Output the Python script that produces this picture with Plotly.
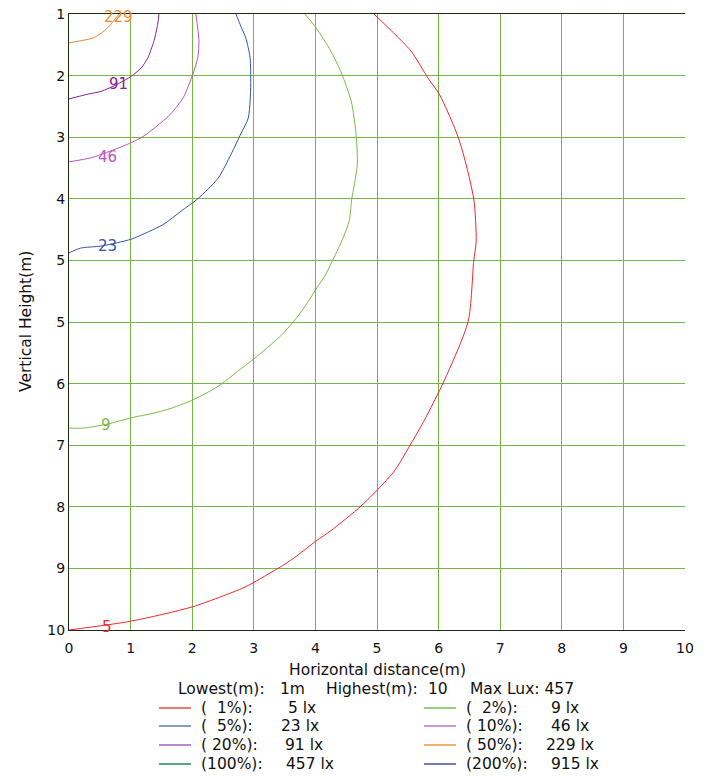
import plotly.graph_objects as go

# ---- data ----
levels = ["5", "9", "23", "46", "91", "229"]

x_5 = [4.95, 5.55, 5.83, 6.01, 6.33, 6.57, 6.61, 6.57, 6.48, 6.09, 5.76, 5.55, 5.28, 5.02, 4.74, 4.25, 4.01, 3.65, 3.41, 2.95, 2.79, 2.01, 1.01, 0.0]
y_5 = [1.00, 1.54, 1.94, 2.17, 2.83, 3.70, 4.32, 4.61, 5.49, 6.36, 6.95, 7.28, 7.68, 7.94, 8.19, 8.55, 8.70, 8.95, 9.09, 9.33, 9.40, 9.66, 9.87, 10.0]

x_9 = [3.83, 4.01, 4.25, 4.42, 4.58, 4.66, 4.68, 4.63, 4.59, 4.55, 4.45, 4.29, 4.17, 4.01, 3.81, 3.65, 3.44, 3.00, 2.74, 2.42, 2.03, 1.66, 1.38, 1.01, 0.63, 0.23, 0.0]
y_9 = [1.00, 1.20, 1.54, 1.86, 2.27, 2.75, 3.19, 3.51, 3.70, 4.02, 4.27, 4.58, 4.80, 5.02, 5.30, 5.49, 5.70, 6.04, 6.22, 6.44, 6.63, 6.76, 6.83, 6.90, 6.99, 7.05, 7.05]

x_23 = [2.71, 2.79, 2.87, 2.94, 2.95, 2.94, 2.91, 2.79, 2.63, 2.42, 2.09, 1.82, 1.54, 1.22, 1.01, 0.52, 0.19, 0.0]
y_23 = [1.00, 1.18, 1.35, 1.64, 2.02, 2.27, 2.52, 2.75, 3.05, 3.40, 3.70, 3.88, 4.07, 4.21, 4.29, 4.39, 4.42, 4.49]

x_46 = [2.06, 2.11, 2.09, 2.01, 1.85, 1.62, 1.53, 1.22, 1.01, 0.68, 0.36, 0.0]
y_46 = [1.00, 1.39, 1.64, 1.88, 2.23, 2.49, 2.56, 2.78, 2.88, 3.00, 3.10, 3.16]

x_91 = [1.46, 1.44, 1.38, 1.28, 1.17, 1.01, 0.80, 0.52, 0.31, 0.0]
y_91 = [1.00, 1.15, 1.39, 1.64, 1.79, 1.91, 2.02, 2.13, 2.17, 2.24]

x_229 = [0.0, 0.39, 0.52, 0.63, 0.76, 0.81]
y_229 = [1.42, 1.35, 1.28, 1.20, 1.06, 1.00]

label_x = [0.62, 0.60, 0.62, 0.62, 0.80, 0.80]
label_y = [9.96, 7.00, 4.39, 3.09, 2.02, 1.04]

x_ticks = list(range(0, 11))
y_tickvals = [1 + 0.9 * i for i in range(11)]
y_ticktext = ["1", "2", "3", "4", "5", "5", "6", "7", "8", "9", "10"]

header_parts = ["Lowest(m):", "1m", "Highest(m):", "10", "Max Lux: 457"]
legend_pct = ["(\u00a0\u00a01%):", "(\u00a0\u00a02%):", "(\u00a0\u00a05%):", "(\u00a010%):",
              "(\u00a020%):", "(\u00a050%):", "(100%):", "(200%):"]
legend_val = ["5 lx", "9 lx", "23 lx", "46 lx", "91 lx", "229 lx", "457 lx", "915 lx"]

# ---- styles ----
curve_colors = ["#ee2a2a", "#77bb44", "#3355aa", "#bb55bb", "#882299", "#ee8833"]
legend_colors = ["#f07878", "#99cc77", "#8899cc", "#cc99cc", "#b98acb", "#f5b070", "#55aa77", "#7777bb"]
FONT = "DejaVu Sans, Verdana, sans-serif"
TS = 15.5

fig = go.Figure()
curves = [(x_5, y_5), (x_9, y_9), (x_23, y_23), (x_46, y_46), (x_91, y_91), (x_229, y_229)]
for (xs, ys), c in zip(curves, curve_colors):
    fig.add_trace(go.Scatter(x=xs, y=ys, mode="lines",
                             line=dict(color=c, width=1, shape="spline", smoothing=0.7),
                             hoverinfo="skip", showlegend=False))

annotations = []
for lab, lx, ly, c in zip(levels, label_x, label_y, curve_colors):
    annotations.append(dict(x=lx, y=ly, xref="x", yref="y", text=lab, showarrow=False,
                            xanchor="center", yanchor="middle",
                            font=dict(family=FONT, size=15, color=c)))

# page offset (body margin) -> figure coordinates
OFF = 7
W, H = 709 - OFF, 776 - OFF
# plot area in page pixels
L, R, T, B = 68, 684, 13, 629
def px(x): return (x - L) / (R - L)
def py(y): return (B - y) / (B - T)

def txt(x, y, s, xa="center", size=TS, **kw):
    d = dict(x=px(x), y=py(y), xref="paper", yref="paper", text=s, showarrow=False,
             xanchor=xa, yanchor="middle", font=dict(family=FONT, size=size, color="#111"))
    d.update(kw)
    return d

annotations.append(txt(376, 669, "Horizontal distance(m)"))
annotations.append(txt(25, 321, "Vertical Height(m)", textangle=-90))
annotations.append(txt(OFF + 2, 29, "lx", xa="right", size=14))
for part, hx in zip(header_parts, [175, 277, 323, 425, 467]):
    annotations.append(txt(hx, 688, part, xa="left"))

shapes = []
row_y = [707, 725, 744, 763]
for i in range(8):
    row, col = divmod(i, 2)
    yy = row_y[row]
    if col == 0:
        x0, x1, tx, vx = 158, 190, 198, [285, 278, 282, 283][row]
    else:
        x0, x1, tx, vx = 423, 455, 463, [548, 548, 543, 548][row]
    shapes.append(dict(type="line", xref="paper", yref="paper", x0=px(x0), x1=px(x1), y0=py(yy), y1=py(yy),
                       line=dict(color=legend_colors[i], width=2)))
    annotations.append(txt(tx, yy, legend_pct[i], xa="left"))
    annotations.append(txt(vx, yy, legend_val[i], xa="left"))

fig.update_layout(
    width=W, height=H,
    margin=dict(l=L - OFF, r=W - (R - OFF), t=T - OFF, b=H - (B - OFF), autoexpand=False),
    paper_bgcolor="white", plot_bgcolor="white",
    font=dict(family=FONT, size=14, color="#111"),
    annotations=annotations, shapes=shapes,
    xaxis=dict(range=[0, 10], tickvals=x_ticks, showgrid=True, gridcolor="#74b544", gridwidth=1,
               zeroline=False, showline=True, linecolor="#1c2a10", linewidth=1, mirror=True,
               ticks="", automargin=False, ticklabeloverflow="allow", ticklabelstandoff=5,
               tickfont=dict(family=FONT, size=14, color="#111")),
    yaxis=dict(range=[10.0001, 0.9999], tickvals=y_tickvals, ticktext=y_ticktext, showgrid=True,
               gridcolor="#74b544", gridwidth=1, zeroline=False, showline=True, linecolor="#1c2a10",
               linewidth=1, ticks="", automargin=False, ticklabeloverflow="allow",
               tickfont=dict(family=FONT, size=14, color="#111")),
)

fig.write_html("out.html")
